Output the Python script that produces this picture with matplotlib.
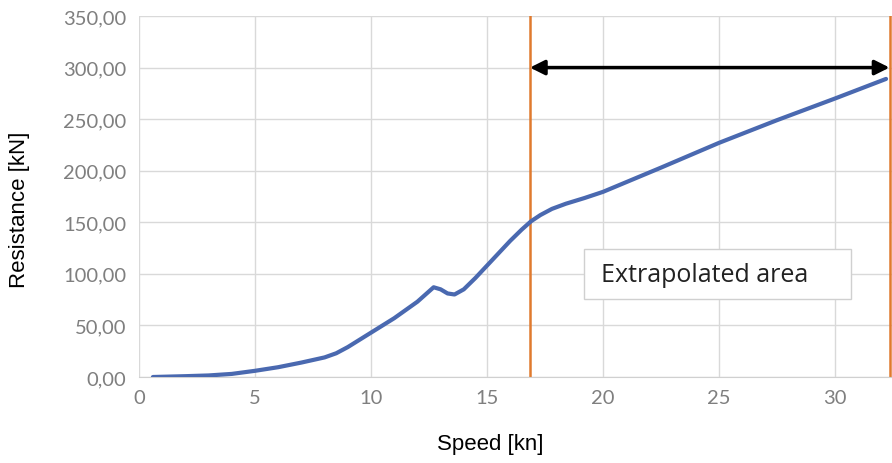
import matplotlib
matplotlib.use("Agg")
import matplotlib.pyplot as plt
from matplotlib.patches import Rectangle

speed = [0.6, 2.0, 3.0, 4.0, 5.0, 6.0, 7.0, 8.0, 8.5, 9.0, 10.0, 11.0, 12.0, 12.4, 12.7, 13.0, 13.3, 13.6, 14.0, 14.5, 15.0, 15.5, 16.0, 16.5, 16.9, 17.3, 17.8, 18.4, 19.2, 20.0, 22.5, 25.0, 27.5, 30.0, 32.2]
resistance = [0.0, 0.8, 1.5, 3.0, 6.0, 9.5, 14.0, 19.0, 23.0, 29.0, 43.0, 57.0, 73.0, 81.0, 87.0, 85.0, 81.0, 80.0, 85.0, 96.0, 108.0, 120.0, 132.0, 143.0, 151.0, 157.0, 163.0, 168.0, 173.5, 179.5, 203.0, 227.0, 249.0, 270.0, 289.0]
x_ticks = [0, 5, 10, 15, 20, 25, 30]
y_ticks = [0, 50, 100, 150, 200, 250, 300, 350]
y_ticklabels = ["0,00", "50,00", "100,00", "150,00", "200,00", "250,00", "300,00", "350,00"]
extrap_start = 16.85
extrap_end = 32.35
arrow_y = 300
label_text = "Extrapolated area"

W, H = 892, 464
fig = plt.figure(figsize=(W / 100, H / 100), dpi=100)
left = 139 / W
bottom = 1 - 378 / H
ax = fig.add_axes([left, bottom, 1 - left, 361 / H])
ax.set_xlim(0, (892 - 139) / 23.2)
ax.set_ylim(0, 350)

ax.set_xticks(x_ticks)
ax.set_yticks(y_ticks)
ax.set_yticklabels(y_ticklabels)
ax.grid(True, color="#d9d9d9", linewidth=1)
ax.set_axisbelow(True)
for s in ["top", "right", "left"]:
    ax.spines[s].set_visible(False)
ax.spines["bottom"].set_color("#d0d0d0")
ax.tick_params(length=0, colors="#7f7f7f", labelsize=14.5, pad=9)
for lab in ax.get_xticklabels() + ax.get_yticklabels():
    lab.set_fontfamily("Lato")

ax.plot(speed, resistance, color="#4a69b0", linewidth=3, solid_capstyle="round", zorder=3)

ax.axvline(extrap_start, color="#e07a2e", linewidth=1.8, zorder=2)
ax.axvline(extrap_end, color="#e07a2e", linewidth=1.8, zorder=2)
ax.annotate("", xy=(extrap_start, arrow_y), xytext=(extrap_end, arrow_y),
            arrowprops=dict(arrowstyle="<|-|>", color="black", lw=2.5,
                            mutation_scale=22, shrinkA=0, shrinkB=0), zorder=4)

ax.add_patch(Rectangle((19.18, 75.6), 30.69 - 19.18, 124.2 - 75.6, facecolor="white",
                       edgecolor="#d0d0d0", linewidth=1, zorder=5))
ax.text(19.9, 99, label_text, fontsize=18, fontfamily="Open Sans",
        color="#222222", va="center", ha="left", zorder=6)

fig.text(490 / W, 1 - 445 / H, "Speed [kn]", ha="center", va="center",
         fontsize=16, fontfamily="Liberation Sans")
fig.text(20 / W, 1 - 210 / H, "Resistance [kN]", ha="center", va="center",
         rotation=90, fontsize=16, fontfamily="Liberation Sans")

fig.savefig("out.png", dpi=100)
